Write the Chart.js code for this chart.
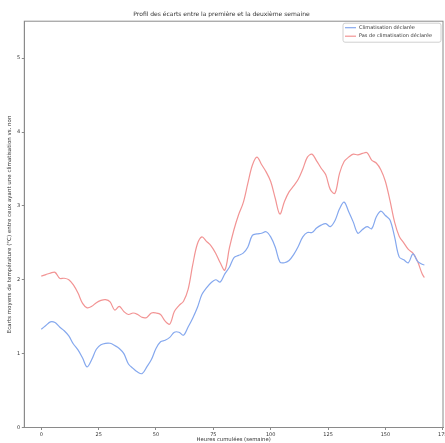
<!DOCTYPE html>
<html>
<head>
<meta charset="utf-8">
<script src="https://cdn.jsdelivr.net/npm/chart.js@4.4.0/dist/chart.umd.min.js"></script>
<style>
  html, body { margin: 0; padding: 0; background: #fff; }
  canvas { display: block; }
</style>
</head>
<body>
<canvas id="chart" width="445" height="443"></canvas>
<script>
// Heures cumulées (pas de 2 h) et écarts moyens
const hours = [0,2,4,6,8,10,12,14,16,18,20,22,24,26,28,30,32,34,36,38,40,42,44,46,48,50,52,54,56,58,60,62,64,66,68,70,72,74,76,78,80,82,84,86,88,90,92,94,96,98,100,102,104,106,108,110,112,114,116,118,120,122,124,126,128,130,132,134,136,138,140,142,144,146,148,150,152,154,156,158,160,162,164,166,167];

const climValues = [1.33,1.38,1.43,1.42,1.36,1.31,1.24,1.13,1.05,0.94,0.82,0.92,1.06,1.12,1.14,1.14,1.11,1.07,1.00,0.86,0.80,0.75,0.73,0.82,0.92,1.07,1.16,1.18,1.22,1.29,1.29,1.25,1.36,1.48,1.62,1.80,1.89,1.96,2.00,1.97,2.08,2.17,2.30,2.33,2.36,2.44,2.60,2.62,2.63,2.65,2.58,2.44,2.24,2.23,2.26,2.34,2.45,2.58,2.64,2.64,2.70,2.74,2.76,2.72,2.80,2.96,3.05,2.92,2.78,2.63,2.68,2.72,2.69,2.85,2.93,2.87,2.81,2.58,2.31,2.27,2.23,2.35,2.25,2.21,2.20];

const noClimValues = [2.05,2.07,2.09,2.10,2.02,2.02,2.00,1.93,1.82,1.68,1.62,1.64,1.69,1.72,1.73,1.70,1.59,1.64,1.57,1.53,1.55,1.53,1.49,1.49,1.55,1.55,1.53,1.44,1.40,1.57,1.65,1.71,1.87,2.20,2.48,2.58,2.52,2.46,2.36,2.23,2.13,2.43,2.68,2.88,3.04,3.30,3.55,3.66,3.56,3.46,3.33,3.10,2.89,3.06,3.19,3.27,3.36,3.50,3.66,3.70,3.61,3.51,3.42,3.22,3.17,3.44,3.60,3.66,3.70,3.69,3.71,3.72,3.62,3.58,3.49,3.33,3.07,2.78,2.59,2.50,2.41,2.36,2.25,2.08,2.03];

const seriesLabels = ["Climatisation déclarée", "Pas de climatisation déclarée"];
const xTicks = [0, 25, 50, 75, 100, 125, 150, 175];
const yTicks = [0, 1, 2, 3, 4, 5];

const toPoints = vals => vals.map((v, i) => ({ x: hours[i], y: v }));

const FONT = "'DejaVu Sans', sans-serif";
const TXT = "#333";
const SPINE = "#8a8a8a";

// cadre complet + légende dans la zone du graphique
const framePlugin = {
    id: "frame",
    afterDraw(chart) {
        const { ctx, chartArea: a } = chart;
        ctx.save();
        ctx.strokeStyle = SPINE;
        ctx.lineWidth = 1;
        ctx.strokeRect(a.left, a.top, a.right - a.left, a.bottom - a.top);

        // légende
        const bw = 98, bh = 19;
        const bx = a.right - bw - 2, by = a.top + 2;
        ctx.fillStyle = "rgba(255,255,255,0.9)";
        ctx.strokeStyle = "#d0d0d0";
        ctx.beginPath();
        ctx.roundRect(bx, by, bw, bh, 2);
        ctx.fill();
        ctx.stroke();
        ctx.font = "5px " + FONT;
        ctx.textBaseline = "middle";
        chart.data.datasets.forEach((ds, i) => {
            const yy = by + 4.5 + i * 8.5;
            ctx.strokeStyle = ds.borderColor;
            ctx.lineWidth = 1.2;
            ctx.beginPath();
            ctx.moveTo(bx + 2, yy);
            ctx.lineTo(bx + 13, yy);
            ctx.stroke();
            ctx.fillStyle = TXT;
            ctx.fillText(ds.label, bx + 16, yy);
        });
        ctx.restore();
    }
};

const ctx = document.getElementById("chart").getContext("2d");
const chart = new Chart(ctx, {
    type: "line",
    data: {
        datasets: [
            {
                label: seriesLabels[0],
                data: toPoints(climValues),
                borderColor: "#85a8ee",
                borderWidth: 1.2,
                pointRadius: 0,
                tension: 0.35,
                fill: false
            },
            {
                label: seriesLabels[1],
                data: toPoints(noClimValues),
                borderColor: "#f29494",
                borderWidth: 1.2,
                pointRadius: 0,
                tension: 0.35,
                fill: false
            }
        ]
    },
    options: {
        responsive: false,
        animation: false,
        layout: { padding: { left: 0, right: 2, top: 0, bottom: 0 } },
        plugins: {
            legend: { display: false },
            tooltip: { enabled: false },
            title: {
                display: true,
                text: "Profil des écarts entre la première et la deuxième semaine",
                color: TXT,
                font: { family: FONT, size: 6, weight: "normal" },
                padding: { top: 11, bottom: 3 }
            }
        },
        scales: {
            x: {
                type: "linear",
                min: -7.4,
                max: 175.1,
                afterBuildTicks: s => { s.ticks = xTicks.map(v => ({ value: v })); },
                afterFit: s => { s.height = 15.5; s.paddingLeft = 0; s.paddingRight = 0; },
                grid: { drawOnChartArea: false, drawTicks: true, tickLength: 2.5, color: SPINE },
                border: { display: true, color: SPINE },
                ticks: { color: TXT, font: { family: FONT, size: 5 }, padding: 1.5, maxRotation: 0 },
                title: {
                    display: true,
                    text: "Heures cumulées (semaine)",
                    color: TXT,
                    font: { family: FONT, size: 5.3 },
                    padding: 0
                }
            },
            y: {
                min: 0,
                max: 5.5,
                afterBuildTicks: s => { s.ticks = yTicks.map(v => ({ value: v })); },
                afterFit: s => { s.width = 24.3; s.paddingTop = 0; s.paddingBottom = 0; },
                grid: { drawOnChartArea: false, drawTicks: true, tickLength: 2.5, color: SPINE },
                border: { display: true, color: SPINE },
                ticks: { color: TXT, font: { family: FONT, size: 5 }, padding: 1.5 },
                title: {
                    display: true,
                    text: "Ecarts moyens de température (°C) entre ceux ayant une climatisation vs. non",
                    color: TXT,
                    font: { family: FONT, size: 5.5 },
                    padding: { top: 6, bottom: 0 }
                }
            }
        }
    },
    plugins: [framePlugin]
});
</script>
</body>
</html>
